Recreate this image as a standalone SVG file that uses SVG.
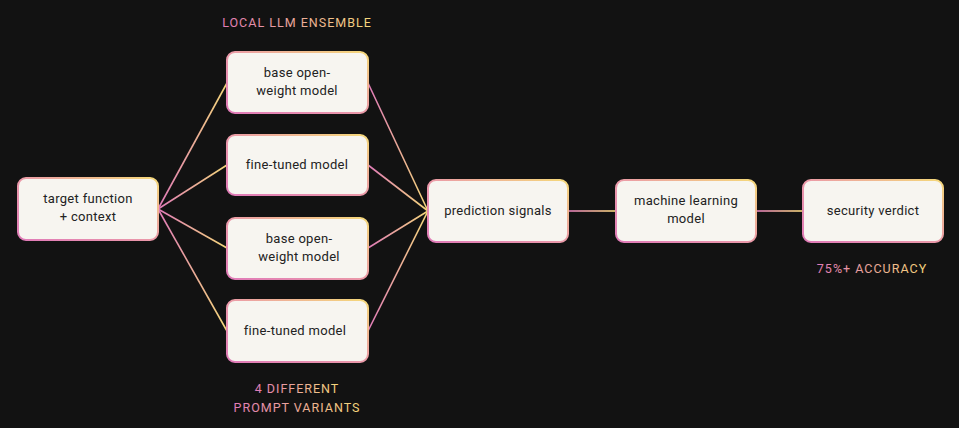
<svg xmlns="http://www.w3.org/2000/svg" width="959" height="428" viewBox="0 0 959 428">
<defs>
<linearGradient id="gb" x1="0" y1="1" x2="1" y2="0"><stop offset="0" stop-color="#e07ab8"/><stop offset="0.5" stop-color="#eb9aa8"/><stop offset="1" stop-color="#f5d97a"/></linearGradient>
<linearGradient id="gt" x1="0" y1="0" x2="1" y2="0"><stop offset="0" stop-color="#e07ab8"/><stop offset="1" stop-color="#f5d97a"/></linearGradient>
<linearGradient id="g1" gradientUnits="userSpaceOnUse" x1="158" y1="0" x2="227" y2="0"><stop offset="0" stop-color="#e07ab8"/><stop offset="1" stop-color="#f5d97a"/></linearGradient>
<linearGradient id="g2" gradientUnits="userSpaceOnUse" x1="368" y1="0" x2="428" y2="0"><stop offset="0" stop-color="#e07ab8"/><stop offset="1" stop-color="#f5d97a"/></linearGradient>
<linearGradient id="g3" gradientUnits="userSpaceOnUse" x1="568" y1="0" x2="616" y2="0"><stop offset="0" stop-color="#e07ab8"/><stop offset="1" stop-color="#f5d97a"/></linearGradient>
<linearGradient id="g4" gradientUnits="userSpaceOnUse" x1="756" y1="0" x2="803" y2="0"><stop offset="0" stop-color="#e07ab8"/><stop offset="1" stop-color="#f5d97a"/></linearGradient>
</defs>
<style>
.box{fill:#f7f5f0;stroke:url(#gb);stroke-width:2}
.t{font-family:Roboto,"Liberation Sans",sans-serif;font-size:13px;fill:#222;text-anchor:middle;letter-spacing:0.3px}
.lbl{font-family:Roboto,"Liberation Sans",sans-serif;font-size:12.5px;fill:url(#gt);text-anchor:middle;letter-spacing:1px}
line{stroke-width:1.6;fill:none}
</style>
<rect width="959" height="428" fill="#121212"/>
<g id="connectors">
<line x1="158" y1="209" x2="227" y2="83" stroke="url(#g1)"/>
<line x1="158" y1="209" x2="227" y2="165" stroke="url(#g1)"/>
<line x1="158" y1="209" x2="227" y2="248" stroke="url(#g1)"/>
<line x1="158" y1="209" x2="227" y2="331" stroke="url(#g1)"/>
<line x1="368" y1="83" x2="428" y2="211" stroke="url(#g2)"/>
<line x1="368" y1="165" x2="428" y2="211" stroke="url(#g2)"/>
<line x1="368" y1="248" x2="428" y2="211" stroke="url(#g2)"/>
<line x1="368" y1="331" x2="428" y2="211" stroke="url(#g2)"/>
<rect x="568" y="210.2" width="48" height="1.6" fill="url(#g3)"/>
<rect x="756" y="210.2" width="47" height="1.6" fill="url(#g4)"/>
</g>
<g id="target"><rect class="box" x="18" y="178" width="140" height="62" rx="8"/><text class="t" x="88" y="203">target function</text><text class="t" x="88" y="221">+ context</text></g>
<g id="model1"><rect class="box" x="227" y="52" width="141" height="61" rx="8"/><text class="t" x="297" y="77">base open-</text><text class="t" x="297" y="95">weight model</text></g>
<g id="model2"><rect class="box" x="227" y="135" width="141" height="60" rx="8"/><text class="t" x="297" y="169">fine-tuned model</text></g>
<g id="model3"><rect class="box" x="227" y="218" width="141" height="61" rx="8"/><text class="t" x="299" y="243">base open-</text><text class="t" x="299" y="261">weight model</text></g>
<g id="model4"><rect class="box" x="227" y="300" width="141" height="62" rx="8"/><text class="t" x="295" y="335">fine-tuned model</text></g>
<g id="prediction"><rect class="box" x="428" y="180" width="140" height="62" rx="8"/><text class="t" x="498" y="215">prediction signals</text></g>
<g id="ml"><rect class="box" x="616" y="180" width="140" height="62" rx="8"/><text class="t" x="686" y="205">machine learning</text><text class="t" x="686" y="223">model</text></g>
<g id="verdict"><rect class="box" x="803" y="180" width="140" height="62" rx="8"/><text class="t" x="873" y="215">security verdict</text></g>
<text class="lbl" x="297" y="27">LOCAL LLM ENSEMBLE</text>
<text class="lbl" x="297" y="393">4 DIFFERENT</text>
<text class="lbl" x="297" y="412">PROMPT VARIANTS</text>
<text class="lbl" x="872" y="273">75%+ ACCURACY</text>
</svg>
